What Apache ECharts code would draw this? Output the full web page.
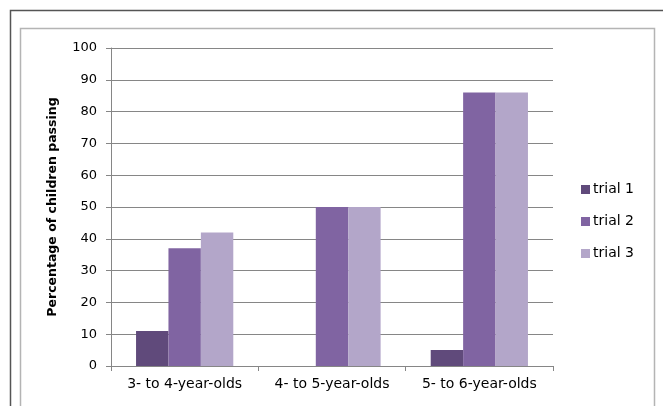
<!DOCTYPE html>
<html>
<head>
<meta charset="utf-8">
<script src="https://cdn.jsdelivr.net/npm/echarts@6/dist/echarts.min.js"></script>
<style>
html,body{margin:0;padding:0;background:#fff;}
#c{width:663px;height:406px;}
</style>
</head>
<body>
<div id="c"></div>
<script>
const categories = ['3- to 4-year-olds', '4- to 5-year-olds', '5- to 6-year-olds'];
const trial1 = [11, 0, 5];
const trial2 = [37, 50, 86];
const trial3 = [42, 50, 86];
const seriesNames = ['trial 1', 'trial 2', 'trial 3'];
const colors = ['#604a7b', '#8064a2', '#b3a6c9'];
const yTicks = {min: 0, max: 100, interval: 10};

const chart = echarts.init(document.getElementById('c'));
const font = 'DejaVu Sans, sans-serif';
const mk = (name, data, i) => ({
  name, type: 'bar', data, barGap: '0%', barCategoryGap: '34%',
  itemStyle: {color: colors[i]}
});
chart.setOption({
  animation: false,
  textStyle: {fontFamily: font},
  graphic: [
    {type: 'polyline', shape: {points: [[10.5, 406], [10.5, 10.5], [663, 10.5]]}, style: {stroke: '#555', lineWidth: 1.5, fill: null}},
    {type: 'polyline', shape: {points: [[20.5, 406], [20.5, 28.5], [654.5, 28.5], [654.5, 406]]}, style: {stroke: '#b4b4b4', lineWidth: 1.5, fill: null}}
  ],
  grid: {left: 111, top: 48, right: 110, bottom: 40, containLabel: false},
  legend: {
    orient: 'vertical', left: 581, top: 181, itemWidth: 9, itemHeight: 9, itemGap: 15,
    icon: 'rect', padding: 0,
    textStyle: {fontSize: 14, lineHeight: 17, color: '#000', fontFamily: font, padding: [0,0,0,-2]},
    data: seriesNames
  },
  xAxis: {
    type: 'category', data: categories,
    axisLine: {lineStyle: {color: '#868686'}},
    axisTick: {show: true, length: 5, lineStyle: {color: '#868686'}},
    axisLabel: {fontSize: 14, color: '#000', margin: 11, interval: 0, hideOverlap: false}
  },
  yAxis: {
    type: 'value', min: yTicks.min, max: yTicks.max, interval: yTicks.interval,
    name: 'Percentage of children passing', nameLocation: 'middle', nameGap: 52,
    nameTextStyle: {fontSize: 12.5, fontWeight: 'bold', color: '#000'},
    axisLine: {show: true, lineStyle: {color: '#868686'}},
    axisTick: {show: true, length: 5, lineStyle: {color: '#868686'}},
    axisLabel: {fontSize: 13, color: '#000', margin: 14},
    splitLine: {lineStyle: {color: '#868686'}}
  },
  series: [mk(seriesNames[0], trial1, 0), mk(seriesNames[1], trial2, 1), mk(seriesNames[2], trial3, 2)]
});
</script>
</body>
</html>
